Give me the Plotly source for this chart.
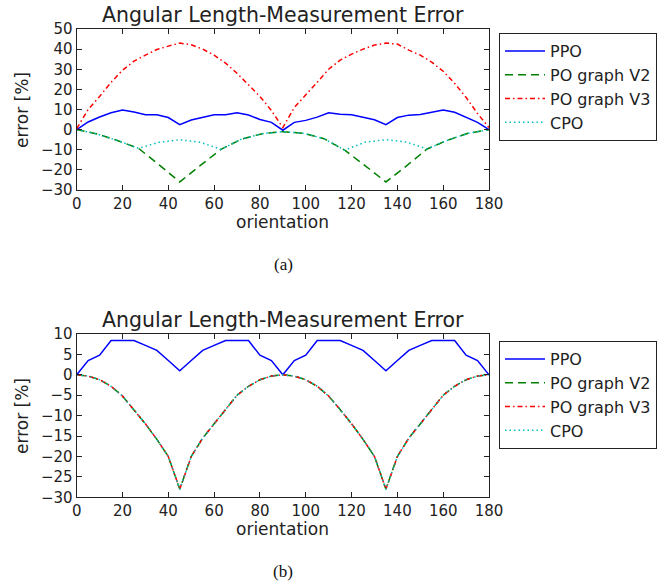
import plotly.graph_objects as go

W, H = 668, 584

# ---------------- data ----------------
x5 = list(range(0, 181, 5))
x9 = list(range(0, 181, 9))

top_ppo = [0, 3.8, 6.3, 8.4, 9.8, 8.8, 7.4, 7.4, 6.0, 2.5, 4.8, 6.1, 7.4, 7.4, 8.4, 7.3, 5.0, 3.6, -0.3,
           3.6, 4.6, 6.2, 8.4, 7.6, 7.4, 6.2, 4.9, 2.5, 6.0, 7.2, 7.5, 8.6, 9.7, 8.6, 6.1, 3.6, 0]
top_v3 = [0.5, 10, 16.5, 23.5, 29.5, 34, 37, 39.8, 41.5, 43, 42.2, 40, 37, 33, 28, 22.5, 16.5, 9.5, 1,
          11, 17, 23.5, 30, 34.5, 37.5, 40, 42, 43, 42.5, 39.5, 37, 33.5, 29, 23, 16, 8, 1]
top_v2 = [0, -2.2, -5.5, -9.3, -17.5, -26, -17.8, -9.8, -4.7, -2.0, -1.0,
          -1.8, -4.5, -10.2, -18, -26, -18, -9.6, -5.2, -1.8, 0]
top_cpo = [0, -2.2, -5.5, -9.3, -6.3, -5.0, -6.3, -9.8, -4.7, -2.0, -1.0,
           -1.8, -4.5, -10.2, -6.2, -5.0, -6.2, -9.6, -5.2, -1.8, 0]

bot_ppo = [0, 3.5, 4.8, 8.4, 8.4, 8.4, 7.2, 6.0, 3.5, 1.0, 3.5, 6.0, 7.2, 8.4, 8.4, 8.4, 4.8, 3.5, 0,
           3.5, 4.8, 8.4, 8.4, 8.4, 7.2, 6.0, 3.5, 1.0, 3.5, 6.0, 7.2, 8.4, 8.4, 8.4, 4.8, 3.5, 0]
bot_v2 = [0, -0.3, -1.2, -2.8, -5.2, -8.5, -12, -15.8, -20, -28, -20, -15.5, -12, -8.3, -5, -2.8, -1.2, -0.3, 0,
          -0.3, -1.2, -2.8, -5.2, -8.5, -12, -15.8, -20, -28, -20, -15.5, -12, -8.3, -5, -2.8, -1.2, -0.3, 0]
bot_v3 = list(bot_v2)
bot_cpo = list(bot_v2)

names = ["PPO", "PO graph V2", "PO graph V3", "CPO"]
colors = ["#0000ff", "#008000", "#ff0000", "#00bfbf"]
dashes = ["solid", "8px,5px", "5px,3px,1.5px,3px", "1.5px,3px"]

x_ticks = list(range(0, 181, 20))
top_yticks = list(range(-30, 51, 10))
bot_yticks = list(range(-30, 11, 5))

title_text = "Angular Length-Measurement Error"
x_label = "orientation"
y_label = "error [%]"

# ---------------- figure ----------------
fig = go.Figure()

top_sets = [(x5, top_ppo), (x9, top_v2), (x5, top_v3), (x9, top_cpo)]
bot_sets = [(x5, bot_ppo), (x5, bot_v2), (x5, bot_v3), (x5, bot_cpo)]

for i, (xs, ys) in enumerate(top_sets):
    fig.add_trace(go.Scatter(x=xs, y=ys, mode="lines", name=names[i],
                             line=dict(color=colors[i], width=1.5, dash=dashes[i]),
                             xaxis="x", yaxis="y", legend="legend"))
for i, (xs, ys) in enumerate(bot_sets):
    fig.add_trace(go.Scatter(x=xs, y=ys, mode="lines", name=names[i],
                             line=dict(color=colors[i], width=1.5, dash=dashes[i]),
                             xaxis="x2", yaxis="y2", legend="legend2"))

px = lambda v: v / W
py = lambda v: 1 - v / H

xd = [px(76.7), px(489)]
axis_common = dict(showline=True, linecolor="#222", linewidth=1.2, mirror="ticks",
                   ticks="inside", ticklen=5, tickcolor="#222", showgrid=False, zeroline=False,
                   automargin=False,
                   tickfont=dict(family="DejaVu Sans", size=15, color="#222"))

leg_common = dict(xanchor="left", yanchor="top",
                  bordercolor="#222", borderwidth=1, bgcolor="white",
                  font=dict(family="DejaVu Sans", size=16, color="#222"),
                  itemwidth=40, tracegroupgap=0)

fig.update_layout(
    width=W, height=H,
    margin=dict(l=0, r=0, t=0, b=0, autoexpand=False),
    paper_bgcolor="white", plot_bgcolor="white",
    font=dict(family="DejaVu Sans", color="#222"),
    xaxis=dict(domain=xd, range=[0, 180], tickvals=x_ticks, anchor="y", **axis_common),
    yaxis=dict(domain=[py(190), py(29)], range=[-30, 50], tickvals=top_yticks, anchor="x", **axis_common),
    xaxis2=dict(domain=xd, range=[0, 180], tickvals=x_ticks, anchor="y2", **axis_common),
    yaxis2=dict(domain=[py(497.3), py(334)], range=[-30, 10], tickvals=bot_yticks, anchor="x2", **axis_common),
    legend=dict(x=px(499), y=py(33), **leg_common),
    legend2=dict(x=px(499), y=py(341), **leg_common),
    showlegend=True,
)

ann = []
for (ty, xly) in [(15, 221.5), (320, 528.5)]:
    ann.append(dict(text=title_text, x=px(282.5), y=py(ty), xref="paper", yref="paper",
                    showarrow=False, xanchor="center", yanchor="middle",
                    font=dict(family="DejaVu Sans", size=20.5, color="#222")))
    ann.append(dict(text=x_label, x=px(282.8), y=py(xly), xref="paper", yref="paper",
                    showarrow=False, xanchor="center", yanchor="middle",
                    font=dict(family="DejaVu Sans", size=17, color="#222")))
for cy in [(29 + 190) / 2, (334 + 497) / 2]:
    ann.append(dict(text=y_label, x=px(21.5), y=py(cy), xref="paper", yref="paper",
                    showarrow=False, xanchor="center", yanchor="middle", textangle=-90,
                    font=dict(family="DejaVu Sans", size=17, color="#222")))
ann.append(dict(text="(a)", x=px(283), y=py(264), xref="paper", yref="paper", showarrow=False,
                xanchor="center", yanchor="middle",
                font=dict(family="Liberation Serif", size=17, color="#111")))
ann.append(dict(text="(b)", x=px(283), y=py(571.5), xref="paper", yref="paper", showarrow=False,
                xanchor="center", yanchor="middle",
                font=dict(family="Liberation Serif", size=17, color="#111")))
fig.update_layout(annotations=ann)

# remove the page's default body margin so the figure fills the window exactly
fig.write_html("out.html", config={"displayModeBar": False},
               post_script="document.body.style.margin='0';")
